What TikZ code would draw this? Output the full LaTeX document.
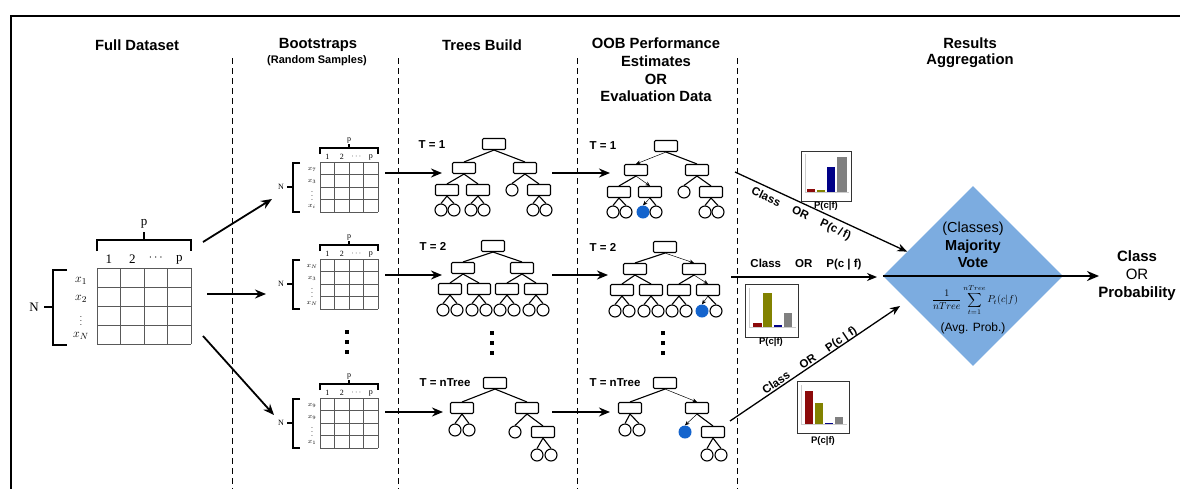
\documentclass[tikz,border=0pt]{standalone}
\usepackage{fontspec}
\setmainfont{Liberation Sans}
\newfontfamily\serifrm{Liberation Serif}
\usetikzlibrary{arrows.meta,shapes.geometric,calc}
\definecolor{oobblue}{RGB}{20,100,205}
\definecolor{diafill}{RGB}{124,172,224}
\definecolor{bred}{RGB}{140,10,10}
\definecolor{bolive}{RGB}{130,130,0}
\definecolor{bnavy}{RGB}{0,0,135}
\definecolor{bgray}{RGB}{128,128,128}
\newcommand{\bsmat}[5]{%
  \foreach \i in {0,...,4} \draw[gridline] ({320+14.5*\i},#1) -- ({320+14.5*\i},{#1+50});
  \foreach \j in {0,...,4} \draw[gridline] (320,{#1+12.5*\j}) -- (378,{#1+12.5*\j});
  \draw[sbrace] (320,{#1-8}) -- (320,{#1-14}) -- (378,{#1-14}) -- (378,{#1-8});
  \draw[sbrace] (349,{#1-14}) -- (349,{#1-18});
  \node[font=\serifrm\fontsize{8}{9}\selectfont] at (349,{#1-22}) {p};
  \node[font=\serifrm\fontsize{8}{9}\selectfont] at (327.25,{#1-5}) {1};
  \node[font=\serifrm\fontsize{8}{9}\selectfont] at (341.75,{#1-5}) {2};
  \node[font=\serifrm\fontsize{8}{9}\selectfont] at (356.25,{#1-5}) {$\cdots$};
  \node[font=\serifrm\fontsize{8}{9}\selectfont] at (370.75,{#1-5}) {p};
  \draw[sbrace] (300,{#1+1}) -- (293,{#1+1}) -- (293,{#1+50}) -- (300,{#1+50});
  \draw[sbrace] (293,{#1+25}) -- (287,{#1+25});
  \node[font=\serifrm\fontsize{8}{9}\selectfont] at (281,{#1+25}) {N};
  \node[font=\fontsize{7}{8}\selectfont] at (312,{#1+7.5}) {$#2$};
  \node[font=\fontsize{7}{8}\selectfont] at (312,{#1+19.5}) {$#3$};
  \node[font=\fontsize{7}{8}\selectfont] at (312,{#1+31}) {$#4$};
  \node[font=\fontsize{7}{8}\selectfont] at (312,{#1+44}) {$#5$};
}
\newcommand{\vdotsq}[2]{%
  \foreach \yy in {0,10,20} \fill ({#1-1.8},{#2+\yy-1.8}) rectangle ({#1+1.8},{#2+\yy+1.8});
}
\begin{document}
\begin{tikzpicture}[x=1pt,y=-1pt,
  tbox/.style={draw,line width=1.1pt,rounded corners=1.2pt,minimum width=23pt,minimum height=11pt,inner sep=0pt},
  leaf/.style={draw,circle,line width=1.1pt,minimum size=12pt,inner sep=0pt},
  bleaf/.style={circle,fill=oobblue,minimum size=13pt,inner sep=0pt},
  te/.style={line width=1.1pt},
  pe/.style={line width=0.5pt,-{Stealth[length=4.5pt,width=4pt]}},
  big/.style={line width=1.8pt,-{Stealth[length=11pt,width=9pt]}},
  vote/.style={line width=1.3pt,-{Stealth[length=10pt,width=8pt]}},
  head/.style={font=\fontsize{14.8}{17.8}\selectfont\bfseries,align=center},
  tlab/.style={font=\fontsize{11.5}{13}\selectfont\bfseries},
  sep/.style={line width=1pt,dash pattern=on 6pt off 4pt},
  brace/.style={line width=2.2pt},
  sbrace/.style={line width=1.3pt},
  gridline/.style={line width=0.7pt,black!65},
  vlab/.style={font=\fontsize{11.5}{13}\selectfont\bfseries},
  plab/.style={font=\fontsize{9.5}{11}\selectfont\bfseries},
  chart/.style={draw=black!80,fill=white,line width=1pt},
]
\useasboundingbox (0,0) rectangle (1180,488);
% frame
\draw[line width=1.3pt] (11,600) -- (11,16) -- (1200,16);
% headers
\node[head] (h1) at (137,45) {Full Dataset};
\node[head] (h2) at (318,45) {Bootstraps};
\node[font=\fontsize{11}{12}\selectfont\bfseries] (h2b) at (317,61) {(Random Samples)};
\node[head] (h3) at (482,45) {Trees Build};
\node[head] (h4) at (656,70) {OOB Performance\\Estimates\\OR\\Evaluation Data};
\node[head,font=\fontsize{14.8}{16}\selectfont\bfseries] (h5) at (970,53) {Results\\Aggregation};
% separators
\foreach \xx in {232,398,577,737} \draw[sep] (\xx,58) -- (\xx,492);

% full dataset matrix
\foreach \i in {0,...,4} \draw[gridline,line width=0.9pt] ({97+23.5*\i},268) -- ({97+23.5*\i},344);
\foreach \j in {0,...,4} \draw[gridline,line width=0.9pt] (97,{268+19*\j}) -- (191,{268+19*\j});
\draw[brace] (97,251) -- (97,240) -- (191,240) -- (191,251);
\draw[brace] (144,240) -- (144,232);
\node[font=\serifrm\fontsize{13}{15}\selectfont] (fp) at (144,224) {p};
\node[font=\serifrm\fontsize{13}{15}\selectfont] at (108.75,259) {1};
\node[font=\serifrm\fontsize{13}{15}\selectfont] at (132.25,259) {2};
\node[font=\serifrm\fontsize{13}{15}\selectfont] at (155.75,258) {$\cdots$};
\node[font=\serifrm\fontsize{13}{15}\selectfont] at (179.25,260) {p};
\draw[brace] (67,270) -- (53,270) -- (53,345) -- (67,345);
\draw[brace] (53,307) -- (44,307);
\node[font=\serifrm\fontsize{13}{15}\selectfont] (fN) at (34,307) {N};
\node[font=\fontsize{12.5}{14}\selectfont,inner sep=0pt] at (81,281) {$x_1$};
\node[font=\fontsize{12.5}{14}\selectfont,inner sep=0pt] at (81,299) {$x_2$};
\node[font=\fontsize{8}{9}\selectfont,inner sep=0pt] at (81,318) {$\vdots$};
\node[font=\fontsize{12.5}{14}\selectfont,inner sep=0pt] at (81,336) {$x_N$};

% bootstrap matrices
\bsmat{162}{x_7}{x_3}{\vdots}{x_i}
\bsmat{259}{x_N}{x_3}{\vdots}{x_N}
\bsmat{398}{x_9}{x_9}{\vdots}{x_1}
\vdotsq{347}{332}
\vdotsq{492}{333}
\vdotsq{663}{333}

% arrows full -> bootstraps
\coordinate (fdA) at (203,242); \coordinate (bsA) at (272,199);
\coordinate (fdB) at (207,294); \coordinate (bsB) at (266,294);
\coordinate (fdC) at (203,336); \coordinate (bsC) at (274,415);
\draw[big] (fdA) -- (bsA);
\draw[big] (fdB) -- (bsB);
\draw[big] (fdC) -- (bsC);
% row arrows
\coordinate (bsAo) at (385,173); \coordinate (trA) at (442,173);
\coordinate (trAo) at (552,173); \coordinate (obA) at (610,173);
\coordinate (bsBo) at (385,275); \coordinate (trB) at (442,275);
\coordinate (trBo) at (552,275); \coordinate (obB) at (608,275);
\coordinate (bsCo) at (385,412); \coordinate (trC) at (443,412);
\coordinate (trCo) at (552,412); \coordinate (obC) at (610,412);
\draw[big] (bsAo) -- (trA); \draw[big] (trAo) -- (obA);
\draw[big] (bsBo) -- (trB); \draw[big] (trBo) -- (obB);
\draw[big] (bsCo) -- (trC); \draw[big] (trCo) -- (obC);

% ---- Tree row 1 (build)
\node[tlab] (tA) at (432,145) {T = 1};
\node[tbox] (Ar) at (494,144) {};
\node[tbox] (Aa) at (464,168) {};
\node[tbox] (Ab) at (525,168) {};
\node[tbox] (Ac) at (447,190) {};
\node[tbox] (Ad) at (478,190) {};
\node[leaf] (Ae) at (512,190) {};
\node[tbox] (Af) at (539,190) {};
\node[leaf] (Ac1) at (441,210) {};
\node[leaf] (Ac2) at (454,210) {};
\node[leaf] (Ad1) at (471,210) {};
\node[leaf] (Ad2) at (484,210) {};
\node[leaf] (Af1) at (533,210) {};
\node[leaf] (Af2) at (546,210) {};
\foreach \p/\c in {Ar/Aa,Ar/Ab,Aa/Ac,Aa/Ad,Ab/Ae,Ab/Af,Ac/Ac1,Ac/Ac2,Ad/Ad1,Ad/Ad2,Af/Af1,Af/Af2}
  \draw[te] (\p.south) -- (\c.north);
% ---- Tree row 1 (OOB)
\node[tlab] (tB) at (603,146) {T = 1};
\node[tbox] (Br) at (666,146) {};
\node[tbox] (Ba) at (636,170) {};
\node[tbox] (Bb) at (697,170) {};
\node[tbox] (Bc) at (619,192) {};
\node[tbox] (Bd) at (650,192) {};
\node[leaf] (Be) at (684,192) {};
\node[tbox] (Bf) at (711,192) {};
\node[leaf] (Bc1) at (613,212) {};
\node[leaf] (Bc2) at (626,212) {};
\node[bleaf] (Bd1) at (643,212) {};
\node[leaf] (Bd2) at (656,212) {};
\node[leaf] (Bf1) at (705,212) {};
\node[leaf] (Bf2) at (718,212) {};
\foreach \p/\c in {Br/Bb,Ba/Bc,Bb/Be,Bb/Bf,Bc/Bc1,Bc/Bc2,Bd/Bd2,Bf/Bf1,Bf/Bf2}
  \draw[te] (\p.south) -- (\c.north);
\foreach \p/\c in {Br/Ba,Ba/Bd,Bd/Bd1}
  \draw[pe] (\p.south) -- (\c.north);

% ---- Tree row 2 (build)
\node[tlab] (tC) at (433,246) {T = 2};
\node[tbox] (Cr) at (493,246) {};
\node[tbox] (Ca) at (463,268) {};
\node[tbox] (Cb) at (522,268) {};
\node[tbox] (Cc) at (450,289) {};
\node[tbox] (Cd) at (479,289) {};
\node[tbox] (Ce) at (507,289) {};
\node[tbox] (Cf) at (536,289) {};
\node[leaf] (Cc1) at (443,310) {};
\node[leaf] (Cc2) at (457,310) {};
\node[leaf] (Cd1) at (472,310) {};
\node[leaf] (Cd2) at (486,310) {};
\node[leaf] (Ce1) at (500,310) {};
\node[leaf] (Ce2) at (514,310) {};
\node[leaf] (Cf1) at (529,310) {};
\node[leaf] (Cf2) at (543,310) {};
\foreach \p/\c in {Cr/Ca,Cr/Cb,Ca/Cc,Ca/Cd,Cb/Ce,Cb/Cf,Cc/Cc1,Cc/Cc2,Cd/Cd1,Cd/Cd2,Ce/Ce1,Ce/Ce2,Cf/Cf1,Cf/Cf2}
  \draw[te] (\p.south) -- (\c.north);
% ---- Tree row 2 (OOB)
\node[tlab] (tD) at (603,247) {T = 2};
\node[tbox] (Dr) at (665,247) {};
\node[tbox] (Da) at (635,269) {};
\node[tbox] (Db) at (694,269) {};
\node[tbox] (Dc) at (622,290) {};
\node[tbox] (Dd) at (651,290) {};
\node[tbox] (De) at (679,290) {};
\node[tbox] (Df) at (708,290) {};
\node[leaf] (Dc1) at (615,311) {};
\node[leaf] (Dc2) at (629,311) {};
\node[leaf] (Dd1) at (644,311) {};
\node[leaf] (Dd2) at (658,311) {};
\node[leaf] (De1) at (672,311) {};
\node[leaf] (De2) at (686,311) {};
\node[bleaf] (Df1) at (702,311) {};
\node[leaf] (Df2) at (716,311) {};
\foreach \p/\c in {Dr/Da,Da/Dc,Da/Dd,Db/De,Dc/Dc1,Dc/Dc2,Dd/Dd1,Dd/Dd2,De/De1,De/De2,Df/Df2}
  \draw[te] (\p.south) -- (\c.north);
\foreach \p/\c in {Dr/Db,Db/Df,Df/Df1}
  \draw[pe] (\p.south) -- (\c.north);

% ---- Tree row 3 (build)
\node[tlab] (tE) at (445,383) {T = nTree};
\node[tbox] (Er) at (495,383) {};
\node[tbox] (Ea) at (462,408) {};
\node[tbox] (Eb) at (527,408) {};
\node[leaf] (Ea1) at (455,430) {};
\node[leaf] (Ea2) at (469,430) {};
\node[leaf] (Ee) at (515,432) {};
\node[tbox] (Ef) at (543,432) {};
\node[leaf] (Ef1) at (537,455) {};
\node[leaf] (Ef2) at (551,455) {};
\foreach \p/\c in {Er/Ea,Er/Eb,Ea/Ea1,Ea/Ea2,Eb/Ee,Eb/Ef,Ef/Ef1,Ef/Ef2}
  \draw[te] (\p.south) -- (\c.north);
% ---- Tree row 3 (OOB)
\node[tlab] (tF) at (615,383) {T = nTree};
\node[tbox] (Fr) at (665,383) {};
\node[tbox] (Fa) at (630,408) {};
\node[tbox] (Fb) at (697,408) {};
\node[leaf] (Fa1) at (625,430) {};
\node[leaf] (Fa2) at (639,430) {};
\node[bleaf] (Fe) at (685,432) {};
\node[tbox] (Ff) at (713,432) {};
\node[leaf] (Ff1) at (707,455) {};
\node[leaf] (Ff2) at (721,455) {};
\foreach \p/\c in {Fr/Fa,Fa/Fa1,Fa/Fa2,Fb/Ff,Ff/Ff1,Ff/Ff2}
  \draw[te] (\p.south) -- (\c.north);
\foreach \p/\c in {Fr/Fb,Fb/Fe}
  \draw[pe] (\p.south) -- (\c.north);

% ---- bar charts
\draw[chart] (801,151) rectangle (851,201);
\draw[black!20,line width=0.3pt] (805,154) -- (805,192) -- (849,192);
\fill[bred] (807,189) rectangle (815,192);
\fill[bolive] (817,190) rectangle (825,192);
\fill[bnavy] (827,167) rectangle (835,192);
\fill[bgray] (837,157) rectangle (847,192);
\node[plab] (pc1) at (826,206) {P(c|f)};

\draw[chart] (745,284) rectangle (798,337);
\draw[black!20,line width=0.3pt] (749,288) -- (749,327) -- (796,327);
\fill[bred] (753,323) rectangle (762,327);
\fill[bolive] (763,293) rectangle (772,327);
\fill[bnavy] (774,325) rectangle (782,327);
\fill[bgray] (784,313) rectangle (792,327);
\node[plab] (pc2) at (771,342) {P(c|f)};

\draw[chart] (797,381) rectangle (849,433);
\draw[black!20,line width=0.3pt] (801,385) -- (801,424) -- (847,424);
\fill[bred] (805,391) rectangle (813,424);
\fill[bolive] (815,403) rectangle (823,424);
\fill[bnavy] (825,422.5) rectangle (833,424);
\fill[bgray] (835,417) rectangle (843,424);
\node[plab] (pc3) at (823,441) {P(c|f)};

% ---- diamond
\node[diamond,aspect=1,fill=diafill,minimum width=180pt,minimum height=180pt,inner sep=0pt] (dia) at (973,276) {};
\node[align=center,font=\fontsize{14.5}{17.5}\selectfont] (dtx) at (973,245) {(Classes)\\\textbf{Majority}\\\textbf{Vote}};
\node[font=\fontsize{10}{11}\selectfont,inner sep=0pt] (dfm) at (975,300) {$\displaystyle\frac{1}{nTree}\sum_{t=1}^{nTree}P_t(c|f)$};
\node[font=\fontsize{12}{14}\selectfont,inner sep=1pt] (dav) at (973,328) {(Avg. Prob.)};
\coordinate (outp) at (1099,276);
\draw[line width=2pt,-{Stealth[length=12pt,width=10pt]}] (dia.west) -- (outp);
\node[align=center,font=\fontsize{15}{18}\selectfont] (res) at (1137,276) {\textbf{Class}\\OR\\\textbf{Probability}};

% ---- vote arrows
\coordinate (vA) at (735,172);
\coordinate (vAe) at ($(dia.west)!0.27!(dia.north)$);
\coordinate (vB) at (731,277);
\coordinate (vBe) at (877,277);
\coordinate (vC) at (730,421);
\coordinate (vCe) at (900,306);
\draw[vote] (vA) -- (vAe);
\draw[vote] (vB) -- (vBe);
\draw[vote] (vC) -- (vCe);
\node[vlab,rotate=-25] (lA) at (801,214) {Class\hspace{14pt}OR\hspace{14pt}P(c\,/\,f)};
\node[vlab] (lB) at (806,265) {Class\hspace{14pt}OR\hspace{14pt}P(c | f)};
\node[vlab,rotate=34] (lC) at (810,361) {Class\hspace{14pt}OR\hspace{14pt}P(c | f)};
\end{tikzpicture}
\end{document}
